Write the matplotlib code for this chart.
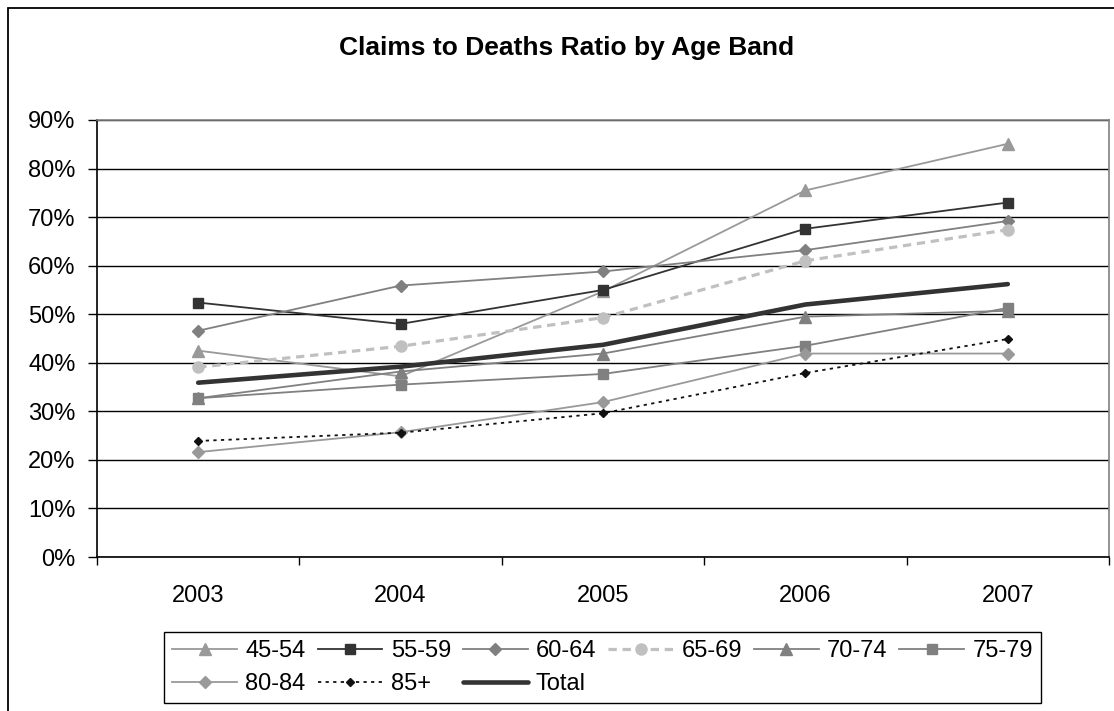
import matplotlib.pyplot as plt
from matplotlib.patches import Rectangle
from matplotlib.ticker import FixedLocator, FuncFormatter

# ---- data -------------------------------------------------------------------
years = ['2003', '2004', '2005', '2006', '2007']

band_45_54 = [0.425, 0.372, 0.547, 0.755, 0.851]
band_55_59 = [0.524, 0.480, 0.550, 0.676, 0.730]
band_60_64 = [0.466, 0.559, 0.588, 0.632, 0.692]
band_65_69 = [0.391, 0.434, 0.493, 0.610, 0.674]
band_70_74 = [0.327, 0.382, 0.419, 0.495, 0.507]
band_75_79 = [0.327, 0.355, 0.377, 0.435, 0.513]
band_80_84 = [0.216, 0.257, 0.319, 0.419, 0.419]
band_85_up = [0.239, 0.256, 0.296, 0.379, 0.449]
total      = [0.359, 0.392, 0.437, 0.520, 0.562]

# ---- figure -----------------------------------------------------------------
plt.rcParams['font.family'] = ['Liberation Sans', 'DejaVu Sans']
fig = plt.figure(figsize=(11.14, 7.11), dpi=100)
ax = fig.add_axes([97 / 1114, 1 - 557 / 711, 1012 / 1114, 437 / 711])

x = list(range(len(years)))

# each series: (label, values, style)
series = [
    ('45-54', band_45_54, dict(color='#999999', lw=1.3, marker='^', ms=8)),
    ('55-59', band_55_59, dict(color='#333333', lw=1.3, marker='s', ms=6.5)),
    ('60-64', band_60_64, dict(color='#808080', lw=1.3, marker='D', ms=6)),
    ('65-69', band_65_69, dict(color='#c0c0c0', lw=2.3, marker='o', ms=8,
                               dashes=(2.6, 1.8))),
    ('70-74', band_70_74, dict(color='#808080', lw=1.3, marker='^', ms=8)),
    ('75-79', band_75_79, dict(color='#808080', lw=1.3, marker='s', ms=7)),
    ('80-84', band_80_84, dict(color='#999999', lw=1.3, marker='D', ms=6)),
    ('85+',   band_85_up, dict(color='#111111', lw=1.3, marker='D', ms=4,
                               dashes=(1.8, 2.4))),
    ('Total', total,      dict(color='#333333', lw=3.3,
                               solid_capstyle='round')),
]

handles = {}
for label, vals, style in series:
    line, = ax.plot(x, vals, label=label, zorder=3, **style)
    handles[label] = line

# ---- axes look (Excel 2003 style) -------------------------------------------
ax.set_xlim(-0.5, 4.5)
ax.set_ylim(0, 0.9)
ax.set_yticks([i / 10 for i in range(10)])
ax.yaxis.set_major_formatter(FuncFormatter(lambda v, p: '%d%%' % round(v * 100)))
ax.yaxis.grid(True, color='#000000', lw=1.0, zorder=1)
ax.set_axisbelow(True)

# year labels sit between the tick marks
ax.xaxis.set_major_locator(FixedLocator([-0.5, 0.5, 1.5, 2.5, 3.5, 4.5]))
ax.xaxis.set_major_formatter(FuncFormatter(lambda v, p: ''))
ax.xaxis.set_minor_locator(FixedLocator(x))
ax.set_xticklabels(years, minor=True)
ax.tick_params(axis='x', which='major', direction='out', length=6, width=1)
ax.tick_params(axis='x', which='minor', length=0, pad=20, labelsize=17)
ax.tick_params(axis='y', direction='out', length=6.5, width=1, pad=9,
               labelsize=17)

for side in ['top', 'right']:
    ax.spines[side].set_color('#808080')
for side in ['left', 'bottom']:
    ax.spines[side].set_color('#000000')
for sp in ax.spines.values():
    sp.set_linewidth(1.2)

fig.text(567 / 1114, 1 - 48 / 711, 'Claims to Deaths Ratio by Age Band',
         ha='center', va='center', fontsize=19, fontweight='bold')

# legend filled column by column, so reorder to read row by row
order = ['45-54', '80-84', '55-59', '85+', '60-64', 'Total',
         '65-69', '70-74', '75-79']
leg = fig.legend([handles[k] for k in order], order, ncol=6,
                 loc='upper left', bbox_to_anchor=(164 / 1114, 1 - 632 / 711),
                 fontsize=17, numpoints=1, handlelength=2.75,
                 handletextpad=0.35, columnspacing=0.5, labelspacing=0.45,
                 borderpad=0.35, borderaxespad=0, fancybox=False,
                 edgecolor='#000000', framealpha=1)
leg.get_frame().set_linewidth(1.0)

# chart area border (runs off the right and bottom of the picture)
fig.add_artist(Rectangle((8 / 1114, -0.2), 1.2, 1.2 - 8 / 711,
                         transform=fig.transFigure, fill=False,
                         ec='#000000', lw=1.3))

fig.savefig('out.png', dpi=100)
